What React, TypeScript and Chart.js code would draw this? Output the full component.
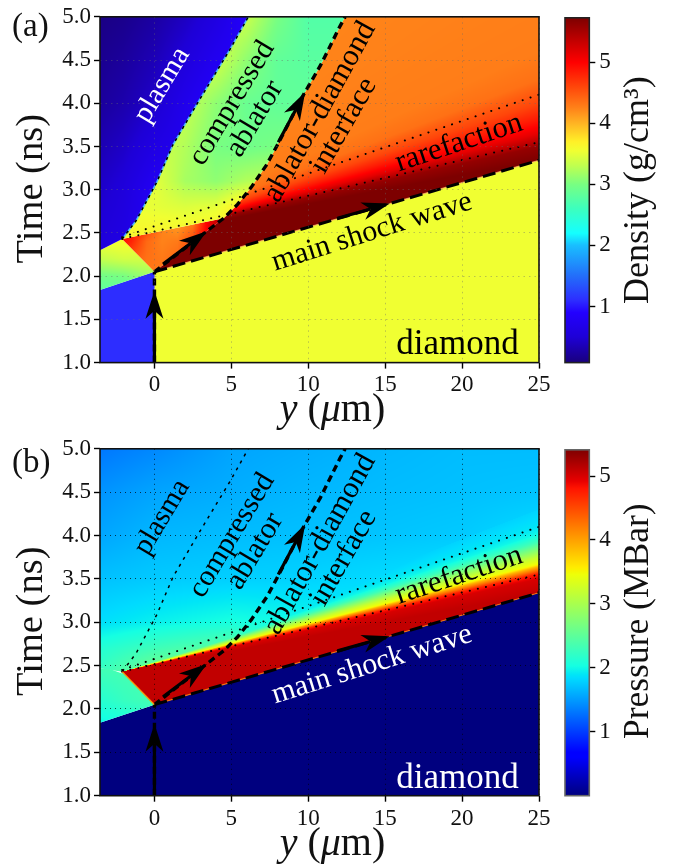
import React, { useEffect, useRef } from "react";
import { Chart, registerables } from "chart.js";
Chart.register(...registerables);

const FONT = "'Liberation Serif'";
const xTicks = [0, 5, 10, 15, 20, 25];
const tTicks = [1, 1.5, 2, 2.5, 3, 3.5, 4, 4.5, 5];
const cbTicks = [1, 2, 3, 4, 5];
const X_MIN = -3.54, X_MAX = 25, T_MIN = 1, T_MAX = 5;

// colour scales (value -> rgb)
const densityLevels = [0.08, 0.5, 0.9, 1.1, 1.5, 2.0, 2.2, 2.6, 3.0, 3.3, 3.55, 3.7, 4.0, 4.25, 4.6, 5.0, 5.35, 5.73];
const densityRgb = [[25,0,125],[30,0,215],[35,0,255],[45,45,255],[35,110,250],[25,190,255],[20,255,255],[60,255,190],[120,255,130],[190,255,80],[240,255,50],[255,240,40],[255,180,35],[255,130,25],[255,70,10],[255,0,0],[195,0,0],[125,0,0]];
const pressureLevels = [0, 0.6, 0.68, 1.84, 1.89, 2.03, 3.46, 3.52, 3.57, 4.81, 4.92, 5.41];
const pressureRgb = [[0,0,127],[0,0,255],[0,0,255],[0,219,255],[0,229,247],[21,255,226],[238,255,8],[247,245,0],[255,236,0],[255,19,0],[232,0,0],[127,0,0]];

// boundaries, y (um) and time (ns)
const plasmaX = [-2.1, -1.2, 0.16, 1.2, 2.96, 4.9, 6.1];
const plasmaT = [2.43, 2.64, 3.09, 3.52, 4.05, 4.62, 5.0];
const interfaceX = [0, 3.4, 4.5, 5.4, 6.3, 7.3, 8.0, 9.6, 10.8, 12.06, 12.4];
const interfaceT = [2.05, 2.52, 2.67, 2.83, 3.03, 3.29, 3.52, 4.07, 4.44, 4.89, 5.0];
const drivePathX = [0, 0];
const drivePathT = [1, 2.05];
const shockX = [0, 25];
const shockT = [2.05, 3.34];
const preShockX = [-3.54, 0];
const preShockT = [1.84, 2.05];
const rareUpperX = [-2.1, 25];
const rareUpperT = [2.45, 4.1];
const rareLowerX = [-2.1, 25];
const rareLowerT = [2.43, 3.55];

// density (a) fields
const dFanT25 = [3.34, 3.5, 3.56, 3.65, 3.73, 3.82, 4.0, 4.28, 4.6, 6, 12];
const dFanVal = [5.73, 5.6, 5.4, 5.15, 5.0, 4.85, 4.6, 4.35, 4.28, 4.25, 4.2];
const dAblX = [-4, -2, 0, 2, 4, 6, 8, 10, 12, 14];
const dAblT = [2.3, 2.5, 2.8, 3.1, 3.5, 4, 4.5, 5];
const dAblV = [
  [3.6, 3.6, 3.7, 3.7, 3.7, 3.8, 3.8, 3.8, 3.8, 3.8],
  [3.6, 3.6, 3.65, 3.65, 3.7, 3.8, 3.8, 3.8, 3.8, 3.8],
  [3.55, 3.55, 3.5, 3.45, 3.5, 3.8, 3.8, 3.8, 3.8, 3.8],
  [3.5, 3.5, 3.5, 3.2, 3.1, 3.25, 3.3, 3.3, 3.3, 3.3],
  [3.4, 3.4, 3.4, 3.25, 3.0, 2.95, 3.0, 3.0, 3.0, 3.0],
  [3.35, 3.35, 3.35, 3.35, 3.1, 2.9, 2.85, 2.85, 2.85, 2.85],
  [3.4, 3.4, 3.4, 3.4, 3.4, 3.1, 2.85, 2.8, 2.8, 2.8],
  [3.4, 3.4, 3.4, 3.4, 3.4, 3.35, 3.0, 2.75, 2.75, 2.75],
];
const dPostX = [-2.5, -1.5, -0.5, 0.5, 1.5, 2.5, 3.5, 4.5];
const dPostT = [2.0, 2.2, 2.4, 2.6];
const dPostV = [
  [4.4, 4.4, 4.3, 4.3, 4.4, 4.6, 5.0, 5.5],
  [4.6, 4.5, 4.35, 4.3, 4.4, 4.7, 5.1, 5.5],
  [5.0, 4.8, 4.4, 4.25, 4.3, 4.6, 5.1, 5.5],
  [5.0, 5.0, 4.7, 4.25, 4.1, 4.3, 5.1, 5.5],
];
const dLeftX = [-4, -2, 0];
const dLeftT = [1.8, 2.0, 2.2, 2.4];
const dLeftV = [[2.8, 2.8, 2.8], [2.95, 3.0, 3.2], [3.3, 3.4, 3.4], [3.55, 3.6, 3.6]];
const dPlasmaX = [-4, -2, 0, 2, 4, 6];
const dPlasmaT = [2.2, 3, 4, 5];
const dPlasmaV = [[0.55, 0.65, 0.8, 0.8, 0.8, 0.8], [0.4, 0.55, 0.8, 0.8, 0.8, 0.8], [0.2, 0.3, 0.45, 0.7, 0.9, 0.9], [0.1, 0.15, 0.25, 0.4, 0.6, 0.85]];
const dDiamond = 3.55;
const dColdAblator = 1.1;

// pressure (b) fields
const pFanT25 = [3.34, 3.5, 3.56, 3.6, 3.64, 3.67, 3.75, 3.85, 3.93, 4.02, 4.1, 4.3, 4.6];
const pFanVal = [5.1, 5.0, 4.75, 4.3, 3.9, 3.5, 3.2, 2.7, 2.3, 2.0, 1.9, 1.8, 0];
const pUpX = [-4, 0, 5, 10, 15, 20, 25];
const pUpT = [2.4, 2.7, 3, 3.5, 4, 4.5, 5];
const pUpV = [
  [2.2, 2.7, 3.0, 2.6, 1.9, 1.9, 1.9],
  [2.1, 2.3, 2.5, 2.2, 1.9, 1.9, 1.9],
  [1.85, 1.95, 2.05, 2.0, 1.9, 1.9, 1.9],
  [1.7, 1.75, 1.78, 1.8, 1.85, 1.9, 1.9],
  [1.55, 1.65, 1.68, 1.7, 1.72, 1.75, 1.85],
  [1.45, 1.55, 1.6, 1.65, 1.68, 1.7, 1.72],
  [1.3, 1.4, 1.55, 1.6, 1.65, 1.68, 1.68],
];
const pLeftX = [-4, -2, 0];
const pLeftT = [1.8, 2.1, 2.45];
const pLeftV = [[1.95, 2.0, 2.1], [2.1, 2.25, 2.35], [2.3, 2.35, 2.4]];
const pCold = 0;
const pLeftTopX = [-3.54, -2.9, -2.1];
const pLeftTopT = [2.47, 2.46, 2.41];

// labels: text, y, time, rotation (deg), size
const labelText = ["plasma", "compressed", "ablator", "ablator-diamond", "interface", "rarefaction", "main shock wave", "diamond"];
const labelX = [0.5, 5.04, 6.54, 10.76, 12.3, 19.8, 14.14, 19.7];
const labelT = [4.21, 4.0, 3.82, 3.9, 3.74, 3.54, 2.51, 1.2];
const labelRot = [-59, -59, -59, -61, -60, -18.5, -17.4, 0];
const labelSize = [29, 29.5, 30, 30.5, 30, 30.5, 30, 35];
const labelColorA = ["#fff", "#000", "#000", "#000", "#000", "#000", "#000", "#000"];
const labelColorB = ["#000", "#000", "#000", "#000", "#000", "#000", "#fff", "#fff"];

// arrows: tail and tip
const arrowTailX = [0, 0.56, 8.05, 11.9];
const arrowTailT = [1.0, 2.14, 3.55, 2.67];
const arrowTipX = [0, 3.4, 9.8, 15.3];
const arrowTipT = [1.83, 2.52, 4.13, 2.84];

const lerp = (a: number, b: number, f: number) => a + (b - a) * f;
function seek(arr: number[], v: number) {
  let i = 0;
  while (i < arr.length - 2 && v > arr[i + 1]) i++;
  const f = (v - arr[i]) / (arr[i + 1] - arr[i]);
  return [i, Math.max(0, Math.min(1, f))];
}
const gridField = (xs: number[], ts: number[], vs: number[][]) => (x: number, t: number) => {
  const [i, f] = seek(xs, x);
  const [j, g] = seek(ts, t);
  return lerp(lerp(vs[j][i], vs[j][i + 1], f), lerp(vs[j + 1][i], vs[j + 1][i + 1], f), g);
};
const fanField = (t25: number[], val: number[]) => (x: number, t: number) => {
  const ax = rareLowerX[0], at = rareLowerT[0];
  if (x <= ax) return 0;
  const s = at + ((t - at) * (X_MAX - ax)) / (x - ax);
  const [i, f] = seek(t25, s);
  return lerp(val[i], val[i + 1], f);
};
const colorOf = (levels: number[], rgb: number[][]) => (v: number) => {
  const [i, f] = seek(levels, v);
  return [0, 1, 2].map((k) => Math.round(lerp(rgb[i][k], rgb[i + 1][k], f)));
};
const css = (c: number[]) => `rgb(${c[0]},${c[1]},${c[2]})`;

function shaded(levels: number[], rgb: number[][], field: (x: number, t: number) => number) {
  const col = colorOf(levels, rgb);
  let cache: any = null;
  return (c: any) => {
    const chart = c.chart;
    if (cache) return cache;
    const a = chart.chartArea;
    if (!a || !chart.scales.x) return "transparent";
    const off = document.createElement("canvas");
    off.width = chart.width;
    off.height = chart.height;
    const o = off.getContext("2d")!;
    const img = o.createImageData(off.width, off.height);
    const { x: sx, y: sy } = chart.scales;
    const l = Math.floor(a.left), r = Math.ceil(a.right), tp = Math.floor(a.top), b = Math.ceil(a.bottom);
    for (let py = tp; py < b; py++) {
      const t = sy.getValueForPixel(py + 0.5);
      for (let px = l; px < r; px++) {
        const x = sx.getValueForPixel(px + 0.5);
        const cc = col(field(x, t));
        const k = (py * off.width + px) * 4;
        img.data[k] = cc[0]; img.data[k + 1] = cc[1]; img.data[k + 2] = cc[2]; img.data[k + 3] = 255;
      }
    }
    o.putImageData(img, 0, 0);
    cache = chart.ctx.createPattern(off, "no-repeat");
    return cache;
  };
}

const pts = (xs: number[], ts: number[]) => xs.map((x, i) => ({ x, y: ts[i] }));
const rev = (a: any[]) => a.slice().reverse();
const apex = { x: plasmaX[0], y: plasmaT[0] };

const area = (label: string, data: any[], fillStyle: any) => ({
  type: "scatter", label, data, showLine: true, fill: "shape", backgroundColor: fillStyle,
  borderWidth: 0, pointRadius: 0, tension: 0, clip: 0,
});
const stroke = (label: string, data: any[], color: string, w: number, dash: number[], cap = "butt") => ({
  type: "scatter", label, data, showLine: true, fill: false, borderColor: color, borderWidth: w,
  borderDash: dash, borderCapStyle: cap, pointRadius: 0, tension: 0,
});

function lines(edgeColor: string | null, fringe: string, fringeW: number, plasmaDash: number[]) {
  const out: any[] = [
    stroke("drive path", pts(drivePathX, drivePathT), "#000", 3.4, [7, 4]),
    stroke("ablator-diamond interface", pts(interfaceX, interfaceT), "#000", 3.4, [7, 4.5]),
    stroke("main shock", pts(shockX, shockT), "#000", 3, [13, 6]),
    stroke("rarefaction head", pts(rareUpperX, rareUpperT), "#000", 2, [0.1, 8.2], "round"),
    stroke("rarefaction tail", pts(rareLowerX, rareLowerT), "#000", 2, [0.1, 8.2], "round"),
    stroke("plasma edge", pts(plasmaX, plasmaT), "#000", 1.5, plasmaDash),
  ];
  if (edgeColor) out.push(stroke("plasma edge glow", pts(plasmaX, plasmaT), edgeColor, 1.6, []));
  out.push(stroke("shock fringe", pts(shockX, shockT), fringe, fringeW, []));
  return out;
}

function densityDatasets() {
  const map = (f: any) => shaded(densityLevels, densityRgb, f);
  const col = colorOf(densityLevels, densityRgb);
  const corner = [{ x: X_MIN, y: 2.3 }, apex];
  return [
    ...lines("rgba(70,190,255,0.9)", "rgba(255,185,90,0.7)", 1.2, [3, 4]),
    area("plasma", [...corner, ...pts(plasmaX, plasmaT).slice(1), { x: X_MIN, y: T_MAX }], map(gridField(dPlasmaX, dPlasmaT, dPlasmaV))),
    area("compressed ablator", [...pts(plasmaX, plasmaT), ...rev(pts(interfaceX, interfaceT).slice(2))], map(gridField(dAblX, dAblT, dAblV))),
    area("shocked ablator", [apex, { x: 0, y: 2.05 }, ...pts(interfaceX, interfaceT).slice(1, 3)], map(gridField(dPostX, dPostT, dPostV))),
    area("shocked diamond", [{ x: shockX[0], y: shockT[0] }, { x: shockX[1], y: shockT[1] }, { x: X_MAX, y: T_MAX }, ...rev(pts(interfaceX, interfaceT))], map(fanField(dFanT25, dFanVal))),
    area("left ablator", [{ x: X_MIN, y: preShockT[0] }, { x: 0, y: preShockT[1] }, apex, { x: X_MIN, y: 2.3 }], map(gridField(dLeftX, dLeftT, dLeftV))),
    area("cold ablator", [{ x: X_MIN, y: T_MIN }, { x: 0, y: T_MIN }, { x: 0, y: preShockT[1] }, { x: X_MIN, y: preShockT[0] }], css(col(dColdAblator))),
    area("cold diamond", [{ x: 0, y: T_MIN }, { x: X_MAX, y: T_MIN }, { x: X_MAX, y: shockT[1] }, { x: 0, y: shockT[0] }], css(col(dDiamond))),
  ];
}

function pressureDatasets() {
  const map = (f: any) => shaded(pressureLevels, pressureRgb, f);
  const col = colorOf(pressureLevels, pressureRgb);
  const up = gridField(pUpX, pUpT, pUpV);
  const fan = fanField(pFanT25, pFanVal);
  return [
    stroke("shock fringe left", [apex, { x: 0, y: 2.05 }], "rgba(255,150,0,0.9)", 1.4, []),
    ...lines(null, "rgba(255,130,0,0.8)", 1.1, [3, 5]),
    area("left ablator", [{ x: X_MIN, y: preShockT[0] }, { x: 0, y: preShockT[1] }, apex, ...rev(pts(pLeftTopX, pLeftTopT))], map(gridField(pLeftX, pLeftT, pLeftV))),
    area("post shock", [{ x: 0, y: 2.05 }, { x: X_MAX, y: shockT[1] }, { x: X_MAX, y: T_MAX }, { x: X_MIN, y: T_MAX }, { x: X_MIN, y: pLeftTopT[0] }, apex], map((x: number, t: number) => Math.max(up(x, t), fan(x, t)))),
    area("cold", [{ x: X_MIN, y: T_MIN }, { x: X_MAX, y: T_MIN }, { x: X_MAX, y: shockT[1] }, { x: 0, y: shockT[0] }, { x: X_MIN, y: preShockT[0] }], css(col(pCold))),
  ];
}

function overlay(tag: string, tagBase: number, titleBase: number, labelColors: string[]) {
  return {
    id: "overlay",
    afterDraw(chart: any) {
      const { ctx, chartArea: a, scales: { x: sx, y: sy } } = chart;
      ctx.save();
      // arrows
      ctx.save();
      ctx.beginPath(); ctx.rect(a.left - 1, a.top, a.right - a.left + 2, a.bottom - a.top + 3); ctx.clip();
      arrowTipX.forEach((_, i) => {
        const x0 = sx.getPixelForValue(arrowTailX[i]), y0 = sy.getPixelForValue(arrowTailT[i]);
        const x1 = sx.getPixelForValue(arrowTipX[i]), y1 = sy.getPixelForValue(arrowTipT[i]);
        const len = Math.hypot(x1 - x0, y1 - y0), ux = (x1 - x0) / len, uy = (y1 - y0) / len, nx = -uy, ny = ux;
        const L = 28, W = 9, N = 20;
        ctx.strokeStyle = "#000"; ctx.fillStyle = "#000"; ctx.lineWidth = 3.2; ctx.lineCap = "butt";
        ctx.beginPath(); ctx.moveTo(x0, y0); ctx.lineTo(x1 - ux * N, y1 - uy * N); ctx.stroke();
        ctx.beginPath(); ctx.moveTo(x1, y1);
        ctx.lineTo(x1 - ux * L + nx * W, y1 - uy * L + ny * W);
        ctx.lineTo(x1 - ux * N, y1 - uy * N);
        ctx.lineTo(x1 - ux * L - nx * W, y1 - uy * L - ny * W);
        ctx.closePath(); ctx.fill();
      });
      ctx.restore();
      // frame
      ctx.strokeStyle = "#111"; ctx.lineWidth = 1.6;
      ctx.strokeRect(a.left, a.top, a.right - a.left, a.bottom - a.top);
      // labels inside the plot
      ctx.textAlign = "center"; ctx.textBaseline = "middle";
      labelText.forEach((s, i) => {
        ctx.save();
        ctx.translate(sx.getPixelForValue(labelX[i]), sy.getPixelForValue(labelT[i]));
        ctx.rotate((labelRot[i] * Math.PI) / 180);
        ctx.fillStyle = labelColors[i];
        ctx.font = `${labelSize[i]}px ${FONT}`;
        ctx.fillText(s, 0, 0);
        ctx.restore();
      });
      // panel tag
      ctx.fillStyle = "#111"; ctx.textBaseline = "alphabetic"; ctx.textAlign = "left";
      ctx.font = `33px ${FONT}`;
      ctx.fillText(tag, 12, tagBase);
      // y title
      ctx.save();
      ctx.translate(42, (a.top + a.bottom) / 2 - 1);
      ctx.rotate(-Math.PI / 2);
      ctx.textAlign = "center";
      ctx.font = `38.5px ${FONT}`;
      ctx.fillText("Time (ns)", 0, 0);
      ctx.restore();
      // x title with italic symbols
      const parts: [string, string][] = [["y", "italic"], [" (", "normal"], ["\u03bc", "italic"], ["m)", "normal"]];
      let w = 0;
      parts.forEach(([s, st]) => { ctx.font = `${st} 40px ${FONT}`; w += ctx.measureText(s).width; });
      let px = 332.5 - w / 2;
      parts.forEach(([s, st]) => { ctx.font = `${st} 40px ${FONT}`; ctx.fillText(s, px, titleBase); px += ctx.measureText(s).width; });
      ctx.restore();
    },
  };
}

function makeMain(canvas: HTMLCanvasElement, top: number, bottom: number, datasets: any[], gridColor: string, gridDash: number[], plugin: any) {
  const H = canvas.height;
  return new Chart(canvas, {
    type: "scatter",
    data: { datasets },
    plugins: [plugin],
    options: {
      responsive: false, animation: false, events: [],
      layout: { padding: { top, right: 16, left: 0, bottom: 0 } },
      plugins: { legend: { display: false }, tooltip: { enabled: false } },
      scales: {
        x: {
          type: "linear", min: X_MIN, max: X_MAX,
          afterBuildTicks: (s: any) => { s.ticks = xTicks.map((value) => ({ value })); },
          afterFit: (s: any) => { s.height = H - bottom; },
          border: { display: false, dash: gridDash },
          grid: { z: 1, color: gridColor, lineWidth: 1, tickColor: "#000", tickLength: 6, tickWidth: 1.4, tickBorderDash: [] },
          ticks: { color: "#111", font: { family: FONT, size: 23 }, padding: 3, autoSkip: false, maxRotation: 0, callback: (v: any) => String(v) },
        },
        y: {
          type: "linear", min: T_MIN, max: T_MAX,
          afterBuildTicks: (s: any) => { s.ticks = tTicks.map((value) => ({ value })); },
          afterFit: (s: any) => { s.width = 100; },
          border: { display: false, dash: gridDash },
          grid: { z: 1, color: gridColor, lineWidth: 1, tickColor: "#000", tickLength: 6, tickWidth: 1.4, tickBorderDash: [] },
          ticks: { color: "#111", font: { family: FONT, size: 23 }, padding: 3, autoSkip: false, callback: (v: any) => Number(v).toFixed(1) },
        },
      },
    } as any,
  } as any);
}

function makeBar(canvas: HTMLCanvasElement, top: number, bottom: number, levels: number[], rgb: number[][], min: number, max: number, title: string, frame: string, titleSize: number, titleShift: number) {
  const H = canvas.height;
  const titlePlugin = {
    id: "barTitle",
    afterDraw(chart: any) {
      const { ctx, chartArea: a } = chart;
      ctx.save();
      ctx.strokeStyle = frame; ctx.lineWidth = 1.6;
      ctx.strokeRect(a.left, a.top, a.right - a.left, a.bottom - a.top);
      ctx.translate(93, (a.top + a.bottom) / 2 + titleShift);
      ctx.rotate(-Math.PI / 2);
      ctx.fillStyle = "#111"; ctx.textAlign = "center"; ctx.textBaseline = "alphabetic";
      ctx.font = `${titleSize}px ${FONT}`;
      ctx.fillText(title, 0, 0);
      ctx.restore();
    },
  };
  return new Chart(canvas, {
    type: "bar",
    data: {
      labels: [title],
      datasets: [{
        label: title,
        data: [[min, max]],
        barPercentage: 1, categoryPercentage: 1,
        backgroundColor: (c: any) => {
          const a = c.chart.chartArea;
          if (!a) return "#888";
          const g = c.chart.ctx.createLinearGradient(0, a.bottom, 0, a.top);
          levels.forEach((v, i) => g.addColorStop((v - min) / (max - min), css(rgb[i])));
          return g;
        },
      }],
    },
    plugins: [titlePlugin],
    options: {
      responsive: false, animation: false, events: [],
      layout: { padding: { top, left: 10, right: 0, bottom: 0 } },
      plugins: { legend: { display: false }, tooltip: { enabled: false } },
      scales: {
        x: { display: true, offset: true, afterFit: (s: any) => { s.height = H - bottom; }, grid: { display: false }, border: { display: false }, ticks: { display: false } },
        y: {
          position: "right", min, max,
          afterBuildTicks: (s: any) => { s.ticks = cbTicks.map((value) => ({ value })); },
          afterFit: (s: any) => { s.width = 85.7; },
          border: { display: false },
          grid: { drawOnChartArea: false, tickColor: "#000", tickLength: 6, tickWidth: 1.4 },
          ticks: { color: "#111", font: { family: FONT, size: 23 }, padding: 4, autoSkip: false, callback: (v: any) => String(v) },
        },
      },
    } as any,
  } as any);
}

export default function App() {
  const a = useRef<HTMLCanvasElement>(null);
  const ab = useRef<HTMLCanvasElement>(null);
  const b = useRef<HTMLCanvasElement>(null);
  const bb = useRef<HTMLCanvasElement>(null);
  useEffect(() => {
    const charts = [
      makeMain(a.current!, 14, 362.6, densityDatasets(), "rgba(105,105,105,0.4)", [1.5, 4], overlay("(a)", 36, 421, labelColorA)),
      makeBar(ab.current!, 14, 362.6, densityLevels, densityRgb, 0.08, 5.73, "Density (g/cm\u00b3)", "#222", 36, 0),
      makeMain(b.current!, 14.7, 363.7, pressureDatasets(), "rgba(0,0,0,0.7)", [1, 4], overlay("(b)", 40, 423, labelColorB)),
      makeBar(bb.current!, 14.7, 363.7, pressureLevels, pressureRgb, 0, 5.41, "Pressure (MBar)", "#666", 35.5, -1.5),
    ];
    return () => charts.forEach((c) => c.destroy());
  }, []);
  const abs = (left: number, top: number): React.CSSProperties => ({ position: "absolute", left, top, display: "block" });
  return (
    <div style={{ position: "fixed", left: 0, top: 0, width: 675, height: 865, overflow: "hidden", background: "#fff" }}>
      <canvas ref={a} width={555} height={432} style={abs(0, 0)} />
      <canvas ref={ab} width={120} height={432} style={abs(555, 0)} />
      <canvas ref={b} width={555} height={433} style={abs(0, 432)} />
      <canvas ref={bb} width={120} height={433} style={abs(555, 432)} />
    </div>
  );
}
